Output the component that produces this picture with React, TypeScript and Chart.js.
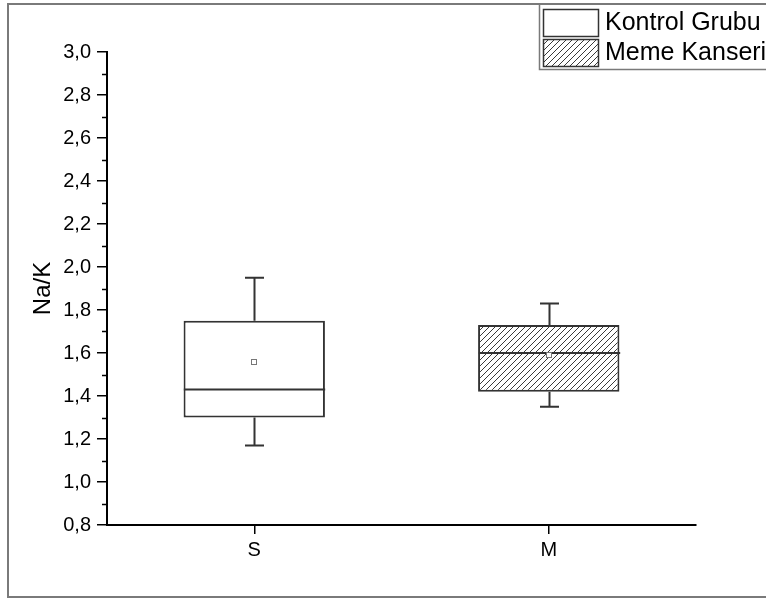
import React, { useEffect, useRef } from 'react';
import { Chart, registerables } from 'chart.js';

Chart.register(...registerables);

// ---- data ----
const categories = ['S', 'M'];
const seriesNames = ['Kontrol Grubu', 'Meme Kanseri'];
const whiskerLow = [1.17, 1.35];
const q1 = [1.30, 1.42];
const median = [1.43, 1.60];
const mean = [1.56, 1.59];
const q3 = [1.75, 1.73];
const whiskerHigh = [1.95, 1.83];
const yMin = 0.8;
const yMax = 3.0;
const yStep = 0.2;
const yTitle = 'Na/K';

const FONT = '"Liberation Sans", Arial, sans-serif';

function makeHatch(): CanvasPattern {
  const c = document.createElement('canvas');
  c.width = 6;
  c.height = 6;
  const g = c.getContext('2d')!;
  g.fillStyle = '#ffffff';
  g.fillRect(0, 0, 6, 6);
  g.strokeStyle = '#3a3a3a';
  g.lineWidth = 1;
  g.beginPath();
  g.moveTo(-1, 7);
  g.lineTo(7, -1);
  g.moveTo(-1, 1);
  g.lineTo(1, -1);
  g.moveTo(5, 7);
  g.lineTo(7, 5);
  g.stroke();
  return g.createPattern(c, 'repeat')!;
}

export default function App() {
  const ref = useRef<HTMLCanvasElement | null>(null);

  useEffect(() => {
    if (!ref.current) return;
    const hatch = makeHatch();
    const fills: (string | CanvasPattern)[] = ['#ffffff', hatch];

    const boxPlugin = {
      id: 'boxExtras',
      afterDatasetsDraw(chart: any) {
        const { ctx, scales } = chart;
        const x = scales.x;
        const y = scales.y;
        const meta = chart.getDatasetMeta(0);
        ctx.save();
        ctx.strokeStyle = '#333333';
        ctx.lineWidth = 2;
        categories.forEach((_, i) => {
          const bar = meta.data[i];
          const cx = Math.round(x.getPixelForValue(i)) + 0.5;
          const half = bar.width / 2;
          const cap = 9.5;
          const yq1 = y.getPixelForValue(q1[i]);
          const yq3 = y.getPixelForValue(q3[i]);
          const ylo = y.getPixelForValue(whiskerLow[i]);
          const yhi = y.getPixelForValue(whiskerHigh[i]);
          const ymed = y.getPixelForValue(median[i]);
          ctx.beginPath();
          ctx.moveTo(cx, yq3);
          ctx.lineTo(cx, yhi);
          ctx.moveTo(cx - cap, yhi);
          ctx.lineTo(cx + cap, yhi);
          ctx.moveTo(cx, yq1);
          ctx.lineTo(cx, ylo);
          ctx.moveTo(cx - cap, ylo);
          ctx.lineTo(cx + cap, ylo);
          ctx.moveTo(cx - half, ymed);
          ctx.lineTo(cx + half, ymed);
          ctx.stroke();
          // mean marker
          const ym = Math.round(y.getPixelForValue(mean[i]));
          ctx.fillStyle = '#ffffff';
          ctx.fillRect(cx - 3.5, ym - 3, 6, 6);
          ctx.lineWidth = 1;
          ctx.strokeStyle = '#777777';
          ctx.strokeRect(cx - 3, ym - 2.5, 5, 5);
          ctx.lineWidth = 2;
          ctx.strokeStyle = '#333333';
        });
        ctx.restore();
      },
      afterDraw(chart: any) {
        const { ctx, chartArea, scales } = chart;
        const y = scales.y;
        ctx.save();
        // minor ticks on y axis
        ctx.strokeStyle = '#000000';
        ctx.lineWidth = 1.5;
        const ticks = y.ticks.map((t: any) => t.value);
        ctx.beginPath();
        for (let k = 0; k < ticks.length - 1; k++) {
          const v = (ticks[k] + ticks[k + 1]) / 2;
          const py = Math.round(y.getPixelForValue(v)) + 0.5;
          ctx.moveTo(chartArea.left - 5, py);
          ctx.lineTo(chartArea.left, py);
        }
        ctx.stroke();

        // outer frame
        ctx.strokeStyle = '#7a7a7a';
        ctx.lineWidth = 2;
        ctx.beginPath();
        ctx.moveTo(800, 4);
        ctx.lineTo(8, 4);
        ctx.lineTo(8, 597);
        ctx.lineTo(800, 597);
        ctx.stroke();

        // legend
        ctx.strokeStyle = '#7a7a7a';
        ctx.lineWidth = 1.5;
        ctx.beginPath();
        ctx.moveTo(800, 4);
        ctx.lineTo(539.5, 4);
        ctx.lineTo(539.5, 69.5);
        ctx.lineTo(800, 69.5);
        ctx.stroke();
        const sw = [
          { y0: 9, y1: 36 },
          { y0: 39, y1: 66 },
        ];
        seriesNames.forEach((name, i) => {
          const s = sw[i];
          ctx.fillStyle = fills[i] as any;
          ctx.fillRect(543, s.y0, 55, s.y1 - s.y0);
          ctx.strokeStyle = '#333333';
          ctx.lineWidth = 1.5;
          ctx.strokeRect(543.5, s.y0 + 0.5, 55, s.y1 - s.y0);
          ctx.fillStyle = '#000000';
          ctx.font = `25px ${FONT}`;
          ctx.textBaseline = 'middle';
          ctx.textAlign = 'left';
          ctx.fillText(name, 605, (s.y0 + s.y1) / 2 + 1);
        });
        ctx.restore();
      },
    };

    const chart = new Chart(ref.current, {
      type: 'bar',
      data: {
        labels: categories,
        datasets: [
          {
            label: seriesNames.join(' / '),
            data: categories.map((_, i) => [q1[i], q3[i]]) as any,
            backgroundColor: fills as any,
            borderColor: '#333333',
            borderWidth: 2,
            borderSkipped: false,
            barPercentage: 0.48,
            categoryPercentage: 1,
          },
        ],
      },
      options: {
        animation: false,
        responsive: false,
        maintainAspectRatio: false,
        devicePixelRatio: 1,
        layout: { padding: { top: 52, right: 70, left: 0, bottom: 0 } },
        plugins: {
          legend: { display: false },
          tooltip: { enabled: false },
        },
        scales: {
          x: {
            type: 'category',
            offset: true,
            grid: {
              display: true,
              offset: false,
              drawOnChartArea: false,
              drawTicks: true,
              tickLength: 9,
              color: '#000000',
              lineWidth: 1.5,
            },
            border: { display: true, color: '#000000', width: 2 },
            ticks: {
              color: '#000000',
              font: { family: FONT, size: 20 },
              padding: 4,
            },
            afterFit: (s: any) => {
              s.height = 74;
            },
          },
          y: {
            type: 'linear',
            min: yMin,
            max: yMax,
            grid: {
              display: true,
              drawOnChartArea: false,
              drawTicks: true,
              tickLength: 10,
              color: '#000000',
              lineWidth: 1.5,
            },
            border: { display: true, color: '#000000', width: 2 },
            ticks: {
              stepSize: yStep,
              color: '#000000',
              font: { family: FONT, size: 20 },
              padding: 6,
              callback: (v: any) => Number(v).toFixed(1).replace('.', ','),
            },
            title: {
              display: true,
              text: yTitle,
              color: '#000000',
              font: { family: FONT, size: 24 },
              padding: { top: 29, bottom: 0 },
            },
            afterFit: (s: any) => {
              s.width = 107;
            },
          },
        },
      },
      plugins: [boxPlugin],
    });

    return () => chart.destroy();
  }, []);

  return (
    <div style={{ position: 'fixed', left: 0, top: 0, width: 766, height: 599, background: '#ffffff' }}>
      <canvas ref={ref} width={766} height={599} />
    </div>
  );
}
